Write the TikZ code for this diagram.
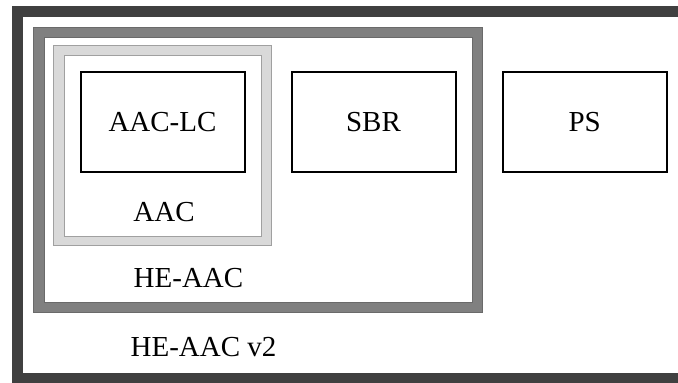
\documentclass[tikz,border=0pt]{standalone}
\usepackage{fontspec}
\setmainfont{Liberation Serif}
\definecolor{darkframe}{HTML}{404040}
\definecolor{midframe}{HTML}{808080}
\definecolor{midedge}{HTML}{6A6A6A}
\definecolor{lightframe}{HTML}{D9D9D9}
\definecolor{lightedge}{HTML}{A0A0A0}
\tikzset{
  blockbox/.style={draw=black, line width=2pt, fill=white, minimum width=164pt, minimum height=100pt, inner sep=0pt, font=\fontsize{29}{32}\selectfont},
  lbl/.style={inner sep=0pt, font=\fontsize{29}{32}\selectfont}
}
\begin{document}
\begin{tikzpicture}[x=1pt,y=-1pt]
\useasboundingbox (0,0) rectangle (678,383);
\clip (0,0) rectangle (678,383);
\fill[white] (0,0) rectangle (678,383);
% outer dark frame (HE-AAC v2)
\draw[darkframe, line width=11pt] (17,11.5) rectangle (700,378.5);
% medium frame (HE-AAC)
\draw[draw=midedge, line width=0.8pt, fill=midframe] (33.5,27.5) rectangle (482.5,312.5);
\draw[draw=midedge, line width=0.8pt, fill=white] (44,37.5) rectangle (472,302);
% light frame (AAC)
\draw[draw=lightedge, line width=0.8pt, fill=lightframe] (53,45) rectangle (271.5,245.5);
\draw[draw=lightedge, line width=0.8pt, fill=white] (64,55) rectangle (261.5,236);
% blocks
\node[blockbox] (aaclc) at (162.5,122.3) {AAC-LC};
\node[blockbox] (sbr) at (373.5,122.3) {SBR};
\node[blockbox] (ps) at (584.7,122.3) {PS};
% labels
\node[lbl] (aac) at (164,212) {AAC};
\node[lbl] (heaac) at (188.5,278) {HE-AAC};
\node[lbl] (heaacv2) at (203.5,347) {HE-AAC v2};
\end{tikzpicture}
\end{document}
